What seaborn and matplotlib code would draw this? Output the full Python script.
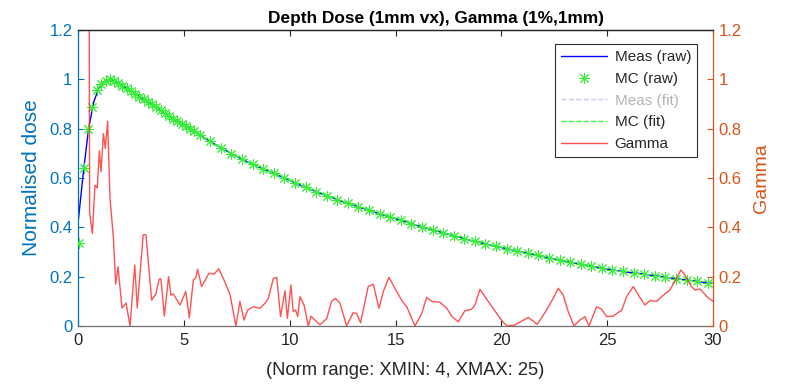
import numpy as np
import pandas as pd
import matplotlib
matplotlib.use("Agg")
import matplotlib.pyplot as plt
from matplotlib.lines import Line2D
import seaborn as sns

# ---------------- data ----------------
meas_x = [0, 0.25, 0.5, 0.75, 1.0, 1.25, 1.5, 2.0, 2.5, 3.0, 3.5, 4.0, 4.5, 5.0, 5.5,
          6.0, 6.5, 7.0, 7.5, 8.0, 8.5, 9.0, 9.5, 10.0, 10.5, 11.0, 11.5, 12.0, 12.5,
          13.0, 13.5, 14.0, 14.5, 15.0, 15.5, 16.0, 16.5, 17.0, 17.5, 18.0, 18.5, 19.0,
          19.5, 20.0, 20.5, 21.0, 21.5, 22.0, 22.5, 23.0, 23.5, 24.0, 24.5, 25.0, 25.5,
          26.0, 26.5, 27.0, 27.5, 28.0, 28.5, 29.0, 29.5, 30.0]
meas_y = [0.416, 0.62, 0.80, 0.91, 0.968, 0.992, 1.0, 0.979, 0.952, 0.925, 0.898, 0.868,
          0.840, 0.815, 0.790, 0.761, 0.735, 0.711, 0.687, 0.666, 0.646, 0.628, 0.609,
          0.590, 0.571, 0.553, 0.536, 0.520, 0.504, 0.490, 0.476, 0.462, 0.448, 0.435,
          0.422, 0.408, 0.396, 0.384, 0.372, 0.360, 0.348, 0.338, 0.328, 0.318, 0.309,
          0.300, 0.290, 0.281, 0.272, 0.263, 0.255, 0.247, 0.239, 0.231, 0.224, 0.218,
          0.213, 0.207, 0.201, 0.195, 0.189, 0.184, 0.178, 0.173]

mc_x = [0.05, 0.28, 0.49, 0.68, 0.9, 1.1, 1.3, 1.5, 1.7, 1.9, 2.1, 2.3, 2.5, 2.7, 2.9,
        3.1, 3.3, 3.5, 3.7, 3.9, 4.1, 4.3, 4.5, 4.7, 4.9, 5.1, 5.3, 5.5, 5.75, 6.25,
        6.75, 7.25, 7.75, 8.25, 8.75, 9.25, 9.75, 10.25, 10.75, 11.25, 11.75, 12.25,
        12.75, 13.25, 13.75, 14.25, 14.75, 15.25, 15.75, 16.25, 16.75, 17.25, 17.75,
        18.25, 18.75, 19.25, 19.75, 20.25, 20.75, 21.25, 21.75, 22.25, 22.75, 23.25,
        23.75, 24.25, 24.75, 25.25, 25.75, 26.25, 26.75, 27.25, 27.75, 28.25, 28.75,
        29.25, 29.75]
mc_y = [0.338, 0.639, 0.80, 0.889, 0.955, 0.98, 0.995, 1.0, 0.993, 0.984, 0.974, 0.963,
        0.952, 0.941, 0.930, 0.920, 0.909, 0.898, 0.886, 0.874, 0.862, 0.851, 0.840,
        0.830, 0.820, 0.810, 0.800, 0.790, 0.775, 0.748, 0.723, 0.699, 0.676, 0.656,
        0.637, 0.619, 0.600, 0.581, 0.562, 0.545, 0.528, 0.512, 0.497, 0.483, 0.469,
        0.455, 0.442, 0.429, 0.415, 0.402, 0.390, 0.378, 0.366, 0.354, 0.343, 0.333,
        0.323, 0.314, 0.304, 0.295, 0.286, 0.277, 0.268, 0.259, 0.251, 0.243, 0.235,
        0.227, 0.221, 0.216, 0.210, 0.204, 0.198, 0.192, 0.186, 0.181, 0.176]

gamma_x = [0.50, 0.55, 0.68, 0.80, 0.91, 1.01, 1.09, 1.20, 1.29, 1.40, 1.51, 1.67, 1.78,
           1.89, 2.08, 2.27, 2.46, 2.68, 2.80, 3.08, 3.21, 3.48, 3.68, 3.83, 3.92, 4.08,
           4.28, 4.39, 4.50, 4.82, 5.09, 5.26, 5.45, 5.56, 5.65, 5.84, 6.19, 6.43, 6.65,
           6.90, 7.18, 7.46, 7.65, 7.84, 8.02, 8.28, 8.60, 8.83, 8.99, 9.23, 9.39, 9.57,
           9.78, 9.89, 10.06, 10.17, 10.28, 10.38, 10.49, 10.68, 10.88, 11.01, 11.19,
           11.43, 11.75, 11.98, 12.17, 12.38, 12.69, 13.00, 13.16, 13.35, 13.71, 13.95,
           14.22, 14.42, 14.69, 14.97, 15.32, 15.53, 15.92, 16.24, 16.47, 16.71, 17.10,
           17.42, 17.65, 17.96, 18.28, 18.60, 18.75, 18.99, 19.38, 19.78, 20.06, 20.28,
           20.64, 20.96, 21.27, 21.70, 22.14, 22.45, 22.69, 22.92, 23.16, 23.43, 23.71,
           23.95, 24.14, 24.50, 24.74, 24.97, 25.29, 25.52, 25.68, 25.92, 26.23, 26.47,
           26.78, 27.02, 27.34, 27.57, 27.96, 28.23, 28.48, 28.67, 28.96, 29.15, 29.39,
           29.71, 29.92, 30.0]
gamma_y = [2.5, 0.46, 0.375, 0.57, 0.56, 0.71, 0.625, 0.78, 0.72, 0.83, 0.52, 0.36, 0.17,
           0.24, 0.073, 0.093, 0.0, 0.247, 0.073, 0.37, 0.37, 0.105, 0.13, 0.19, 0.19,
           0.04, 0.20, 0.125, 0.13, 0.085, 0.14, 0.033, 0.187, 0.195, 0.23, 0.16, 0.214,
           0.21, 0.232, 0.186, 0.128, 0.0, 0.10, 0.024, 0.065, 0.078, 0.072, 0.092, 0.112,
           0.193, 0.197, 0.038, 0.143, 0.031, 0.166, 0.058, 0.065, 0.038, 0.119, 0.085,
           0.0, 0.04, 0.024, 0.005, 0.03, 0.1, 0.112, 0.092, 0.0, 0.054, 0.051, 0.013,
           0.16, 0.169, 0.072, 0.139, 0.197, 0.153, 0.1, 0.078, 0.0, 0.051, 0.116, 0.1,
           0.096, 0.072, 0.04, 0.017, 0.062, 0.068, 0.085, 0.149, 0.1, 0.051, 0.017, 0.0,
           0.004, 0.02, 0.035, 0.007, 0.065, 0.112, 0.153, 0.126, 0.058, 0.0, 0.024,
           0.038, 0.0, 0.078, 0.068, 0.038, 0.04, 0.055, 0.062, 0.119, 0.16, 0.126, 0.085,
           0.103, 0.1, 0.119, 0.146, 0.186, 0.227, 0.207, 0.162, 0.146, 0.15, 0.119,
           0.105, 0.10]

norm_xmin, norm_xmax = 4, 25
x_ticks = [0, 5, 10, 15, 20, 25, 30]
y_ticks = [0, 0.2, 0.4, 0.6, 0.8, 1.0, 1.2]
y_ticklabels = ["0", "0.2", "0.4", "0.6", "0.8", "1", "1.2"]

# ---------------- style ----------------
sns.set_theme(style="white")
plt.rcParams["font.family"] = ["Liberation Sans", "DejaVu Sans"]

BLUE_AX = "#0072BD"
ORANGE_AX = "#D95319"
DARK = "#262626"
MARK_GREEN = "#33F033"

meas = pd.DataFrame({"x": meas_x, "y": meas_y})
mc = pd.DataFrame({"x": mc_x, "y": mc_y})
mc_fit = mc[(mc.x >= norm_xmin) & (mc.x <= norm_xmax)]
gam = pd.DataFrame({"x": gamma_x, "y": gamma_y})

fig = plt.figure(figsize=(7.95, 3.85), dpi=100)
ax = fig.add_axes([78 / 795, 59 / 385, 635 / 795, 296 / 385])
ax2 = ax.twinx()

sns.lineplot(data=meas, x="x", y="y", ax=ax, color="#0000FF", linewidth=1.0,
             estimator=None, sort=False, zorder=2)
sns.lineplot(data=mc_fit, x="x", y="y", ax=ax, color="#33FF33", linewidth=1.0,
             linestyle="--", estimator=None, sort=False, zorder=3)
sns.lineplot(data=mc, x="x", y="y", ax=ax, color=MARK_GREEN, linestyle="",
             marker=(8, 2, 0), markersize=8, markeredgewidth=0.7,
             markeredgecolor=MARK_GREEN, estimator=None, sort=False, zorder=4)
sns.lineplot(data=gam, x="x", y="y", ax=ax2, color="#FF3333", linewidth=1.0,
             alpha=0.85, estimator=None, sort=False)

ax.set_xlim(0, 30)
ax.set_ylim(0, 1.2)
ax2.set_ylim(0, 1.2)
ax.set_xticks(x_ticks)
ax.set_xticklabels([str(t) for t in x_ticks], fontsize=12, color=DARK)
ax.set_yticks(y_ticks)
ax.set_yticklabels(y_ticklabels, fontsize=12, color=BLUE_AX)
ax2.set_yticks(y_ticks)
ax2.set_yticklabels(y_ticklabels, fontsize=12, color=ORANGE_AX)

ax.tick_params(axis="x", direction="in", length=4, width=0.8, color=DARK,
               top=True, bottom=True, pad=5)
ax.tick_params(axis="y", direction="in", length=4, width=0.8, color=BLUE_AX,
               left=True, right=False, pad=4)
ax2.tick_params(axis="y", direction="in", length=4, width=0.8, color=ORANGE_AX,
                right=True, left=False, pad=4)
ax2.tick_params(axis="x", top=False, bottom=False)

for a in (ax, ax2):
    for s in a.spines.values():
        s.set_linewidth(0.9)
ax.spines["left"].set_color(BLUE_AX)
ax.spines["right"].set_visible(False)
ax.spines["top"].set_color(DARK)
ax.spines["bottom"].set_color("#707070")
ax2.spines["left"].set_visible(False)
ax2.spines["right"].set_color(ORANGE_AX)
ax2.spines["top"].set_color(DARK)
ax2.spines["bottom"].set_visible(False)

ax.set_xlabel("(Norm range: XMIN: 4, XMAX: 25)", fontsize=13.2, color=DARK)
ax.xaxis.set_label_coords(0.515, -0.12)
ax.set_ylabel("Normalised dose", fontsize=15, color=BLUE_AX, labelpad=6)
ax2.set_ylabel("Gamma", fontsize=14, color=ORANGE_AX, labelpad=8)
ax.set_title("Depth Dose (1mm vx), Gamma (1%,1mm)", fontsize=12.4, fontweight="bold",
             color="black", x=0.563, pad=5)

handles = [
    Line2D([], [], color="#0000FF", linewidth=1.0),
    Line2D([], [], color=MARK_GREEN, linestyle="", marker=(8, 2, 0), markersize=8,
           markeredgewidth=0.7, markeredgecolor=MARK_GREEN),
    Line2D([], [], color="#C8C8FF", linewidth=1.0, linestyle="--"),
    Line2D([], [], color="#33FF33", linewidth=1.0, linestyle="--"),
    Line2D([], [], color="#FF3333", linewidth=1.0, alpha=0.85),
]
labels = ["Meas (raw)", "MC (raw)", "Meas (fit)", "MC (fit)", "Gamma"]
leg = ax2.legend(handles, labels, loc="upper right", bbox_to_anchor=(0.975, 0.952),
                 fontsize=11, frameon=True, fancybox=False, framealpha=1,
                 edgecolor="#303030", handlelength=3.0, handletextpad=0.5,
                 borderpad=0.4, labelspacing=0.5, borderaxespad=0)
leg.get_frame().set_linewidth(0.8)
for t, lab in zip(leg.get_texts(), labels):
    t.set_color("#B4B4B4" if lab == "Meas (fit)" else DARK)
leg.set_zorder(10)

fig.savefig("out.png", dpi=100)
